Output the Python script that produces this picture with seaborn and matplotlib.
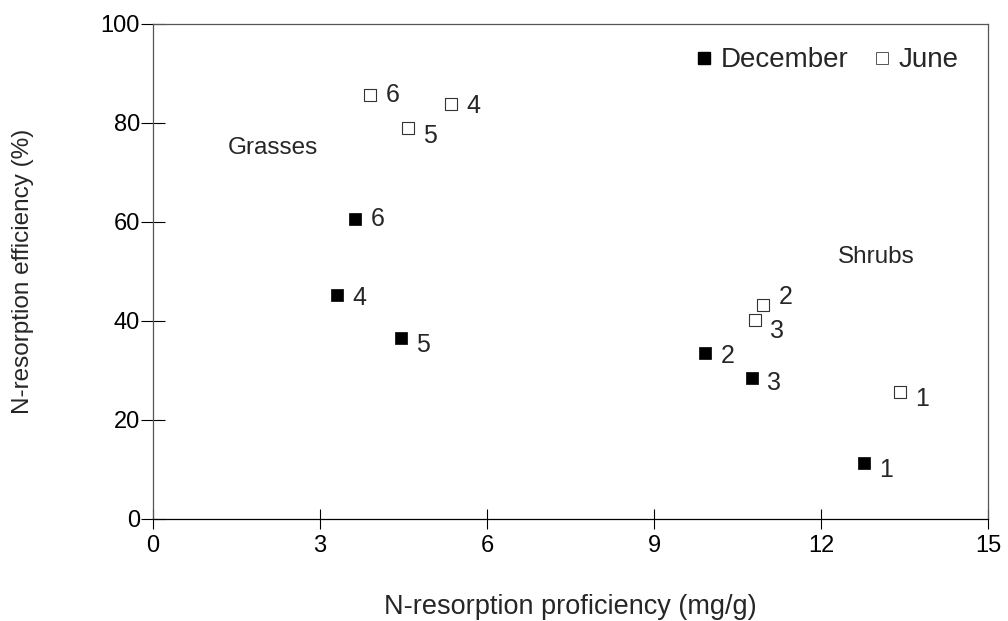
import matplotlib
matplotlib.use("Agg")
import matplotlib.pyplot as plt
from matplotlib.lines import Line2D
import seaborn as sns
import pandas as pd

# Data
dec_x = [12.77, 9.92, 10.76, 3.31, 4.45, 3.63]
dec_y = [11.3, 33.5, 28.5, 45.3, 36.6, 60.6]
jun_x = [13.42, 10.96, 10.81, 5.35, 4.58, 3.90]
jun_y = [25.7, 43.2, 40.2, 83.8, 79.0, 85.7]
site_labels = ["1", "2", "3", "4", "5", "6"]
x_ticks = [0, 3, 6, 9, 12, 15]
y_ticks = [0, 20, 40, 60, 80, 100]

# label offsets in points (style only)
dec_off = [(11, -5), (11, -2), (11, -4), (11, -2), (11, -5), (11, 0)]
jun_off = [(11, -5), (11, 6), (11, -8), (11, -1), (11, -6), (11, 0)]

sns.set_style("white")
plt.rcParams['font.family'] = ['Liberation Sans', 'DejaVu Sans']

fig = plt.figure(figsize=(10.08, 6.21), dpi=100)
ax = fig.add_axes([0.1518, 0.1643, 0.8284, 0.7971])

dec = pd.DataFrame({"x": dec_x, "y": dec_y})
jun = pd.DataFrame({"x": jun_x, "y": jun_y})

sns.scatterplot(data=dec, x="x", y="y", marker="s", s=85, color="black",
                edgecolor="black", linewidth=0.5, ax=ax, zorder=3)
sns.scatterplot(data=jun, x="x", y="y", marker="s", s=75, facecolor="white",
                edgecolor="#333333", linewidth=0.8, ax=ax, zorder=3)

for xs, ys, offs in ((dec_x, dec_y, dec_off), (jun_x, jun_y, jun_off)):
    for xv, yv, lab, off in zip(xs, ys, site_labels, offs):
        ax.annotate(lab, (xv, yv), xytext=off, textcoords="offset points",
                    ha="left", va="center", fontsize=18)

ax.text(2.16, 75, "Grasses", fontsize=17.5, ha="center", va="center")
ax.text(12.99, 53, "Shrubs", fontsize=17.5, ha="center", va="center")

ax.set_xlim(0, 15)
ax.set_ylim(0, 100)
ax.set_xticks(x_ticks)
ax.set_yticks(y_ticks)
ax.tick_params(axis="y", direction="inout", length=17, width=0.8,
               labelsize=17, colors="black", left=True, pad=1)
ax.tick_params(axis="x", direction="inout", length=15, width=0.8,
               labelsize=17, colors="black", bottom=True, pad=4)
for sp in ax.spines.values():
    sp.set_visible(True)
    sp.set_color("#555555")
    sp.set_linewidth(0.9)
ax.spines["bottom"].set_color("black")

ax.set_xlabel("N-resorption proficiency (mg/g)", fontsize=19.5, labelpad=27)
ax.set_ylabel("N-resorption efficiency (%)", fontsize=17.5, labelpad=48)

handles = [
    Line2D([], [], ls="none", marker="s", markersize=9, markerfacecolor="black",
           markeredgecolor="black"),
    Line2D([], [], ls="none", marker="s", markersize=8, markerfacecolor="white",
           markeredgecolor="#555555", markeredgewidth=0.7),
]
ax.legend(handles, ["December", "June"], loc="upper right", ncol=2, frameon=False,
          fontsize=20, handletextpad=0.0, columnspacing=0.6, handlelength=1.2,
          borderaxespad=0, bbox_to_anchor=(0.978, 0.975))

fig.savefig("out.png", dpi=100)
